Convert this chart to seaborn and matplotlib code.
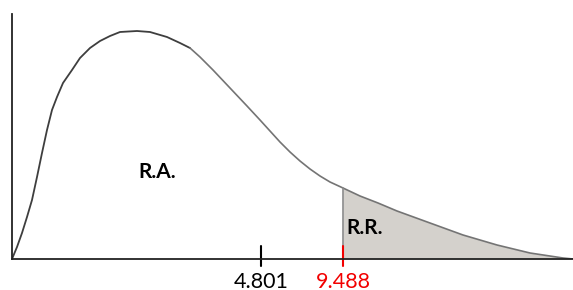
import matplotlib
matplotlib.use("Agg")
import matplotlib.pyplot as plt
import seaborn as sns
import numpy as np
import pandas as pd

# Curve (x in plot units from the left axis, y = height above baseline)
curve_x = [0, 5, 10, 15, 20, 25, 30, 35, 40, 45, 51, 60, 68, 78, 88, 98, 108,
           125, 138, 155, 168, 178, 188, 201, 218, 235, 248, 258, 268, 278, 288,
           298, 308, 318, 331, 348, 366, 385, 418, 451, 485, 518, 551, 561]
curve_y = [0, 12, 26, 42, 59, 82, 106, 129, 149, 162, 176, 189, 201, 211, 218,
           223, 227, 228, 227, 222, 216, 211, 202, 189, 171, 153, 139, 128, 117,
           107, 98, 90, 83, 77, 71, 63, 56, 48, 36, 24, 14, 6, 1, 0]

tick_pos = [249, 331]
tick_labels = ["4.801", "9.488"]
tick_colors = ["black", "#f20000"]
crit_x = 331
region_labels = ["R.A.", "R.R."]
region_pos = [(145, 87), (334, 31)]

sns.set_style("white")
plt.rcParams['font.family'] = ['Lato', 'DejaVu Sans']

fig = plt.figure(figsize=(5.73, 2.90), dpi=100)
ax = fig.add_axes([12/573, 31/290, 561/573, 245/290])
ax.set_xlim(0, 561)
ax.set_ylim(0, 245)

df = pd.DataFrame({"x": curve_x, "y": curve_y})
split = 21
sns.lineplot(data=df.iloc[:split + 1], x="x", y="y", ax=ax, color="#3e3e3e",
             lw=1.3, sort=False, estimator=None)
sns.lineplot(data=df.iloc[split:], x="x", y="y", ax=ax, color="#747474",
             lw=1.2, sort=False, estimator=None)

# shaded rejection region
xs = np.array(curve_x, dtype=float)
ys = np.array(curve_y, dtype=float)
xf = np.concatenate([[crit_x], xs[xs > crit_x]])
yf = np.interp(xf, xs, ys)
ax.fill_between(xf, 0, yf, color="#d4d1cc", lw=0, zorder=0)
ax.plot([crit_x, crit_x], [0, np.interp(crit_x, xs, ys)], color="#8a8a8a", lw=1.2)

# axes
sns.despine(ax=ax, top=True, right=True)
for s in ["left", "bottom"]:
    ax.spines[s].set_color("#222222")
    ax.spines[s].set_linewidth(1.3)
ax.set_xticks([])
ax.set_yticks([])
ax.set_xlabel("")
ax.set_ylabel("")

for p, lab, c in zip(tick_pos, tick_labels, tick_colors):
    ax.plot([p, p], [-7, 13], color=c, lw=1.5, clip_on=False)
    ax.text(p, -28.5, lab, color=c, ha="center", va="baseline", fontsize=15.5)

for lab, (x, y) in zip(region_labels, region_pos):
    ax.text(x, y, lab, ha="center" if lab == "R.A." else "left", va="center",
            fontsize=15, fontweight="bold", color="black")

fig.savefig("out.png", dpi=100)
